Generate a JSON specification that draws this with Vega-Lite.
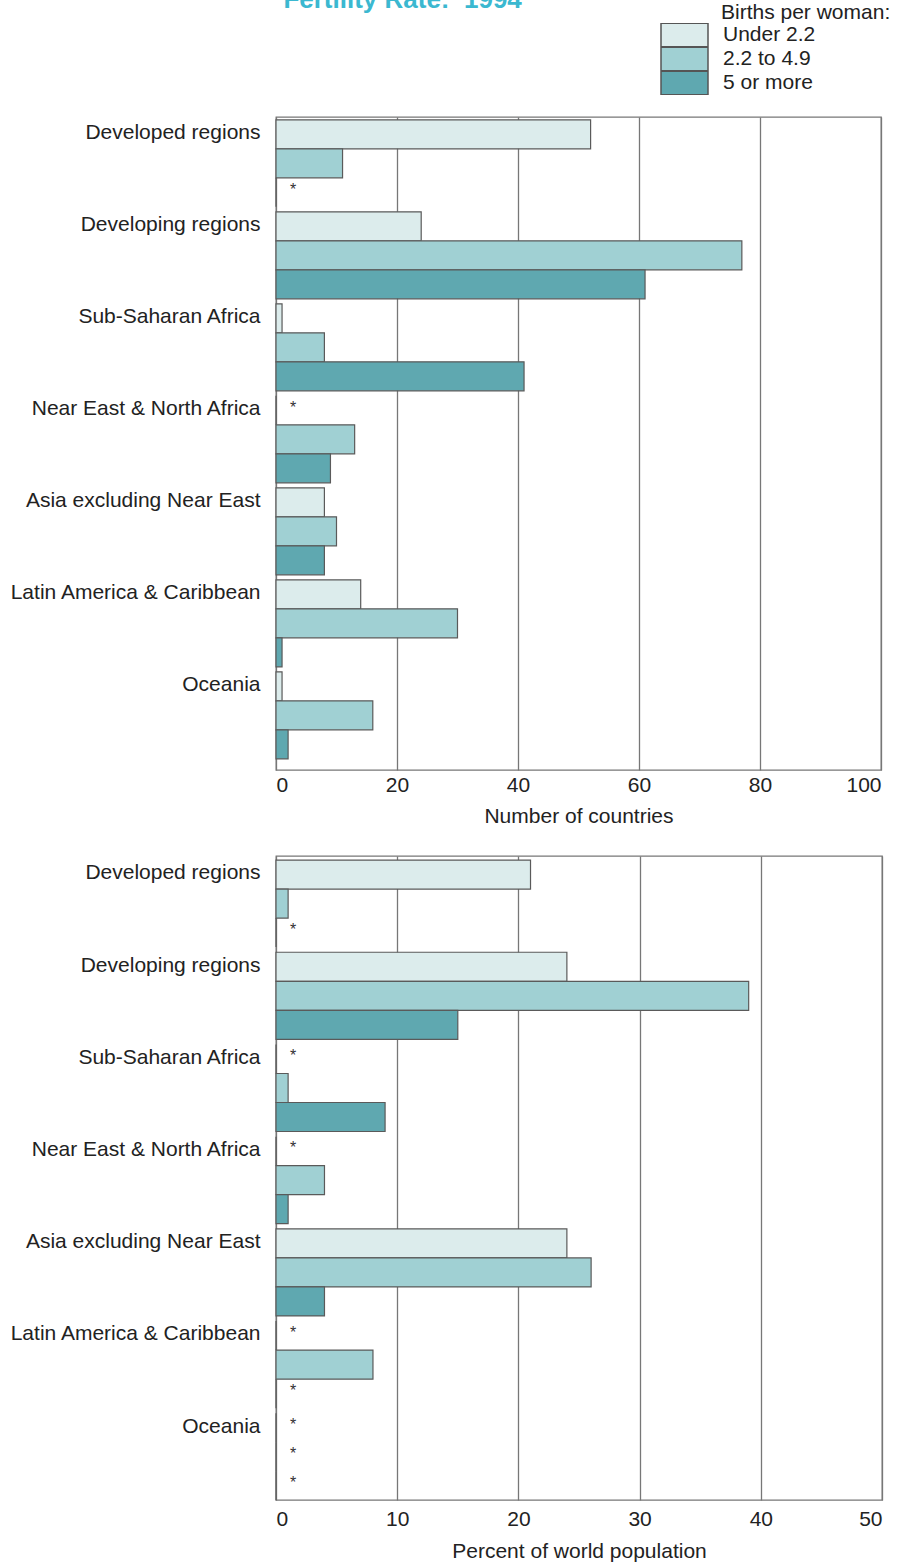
{
  "$schema": "https://vega.github.io/schema/vega-lite/v6.json",
  "padding": {"left": 8, "top": -13, "right": 0, "bottom": 0},
  "title": {"text": "Fertility Rate:\u00a0\u00a01994", "anchor": "start", "frame": "bounds", "dx": 275, "fontSize": 26, "fontWeight": "bold", "color": "#3bb8d0", "font": "Liberation Sans", "offset": -11},
  "datasets": {
    "countries": [
      {"region": "Developed regions", "rate": "Under 2.2", "value": 52},
      {"region": "Developed regions", "rate": "2.2 to 4.9", "value": 11},
      {"region": "Developed regions", "rate": "5 or more", "value": 0},
      {"region": "Developing regions", "rate": "Under 2.2", "value": 24},
      {"region": "Developing regions", "rate": "2.2 to 4.9", "value": 77},
      {"region": "Developing regions", "rate": "5 or more", "value": 61},
      {"region": "Sub-Saharan Africa", "rate": "Under 2.2", "value": 1},
      {"region": "Sub-Saharan Africa", "rate": "2.2 to 4.9", "value": 8},
      {"region": "Sub-Saharan Africa", "rate": "5 or more", "value": 41},
      {"region": "Near East & North Africa", "rate": "Under 2.2", "value": 0},
      {"region": "Near East & North Africa", "rate": "2.2 to 4.9", "value": 13},
      {"region": "Near East & North Africa", "rate": "5 or more", "value": 9},
      {"region": "Asia excluding Near East", "rate": "Under 2.2", "value": 8},
      {"region": "Asia excluding Near East", "rate": "2.2 to 4.9", "value": 10},
      {"region": "Asia excluding Near East", "rate": "5 or more", "value": 8},
      {"region": "Latin America & Caribbean", "rate": "Under 2.2", "value": 14},
      {"region": "Latin America & Caribbean", "rate": "2.2 to 4.9", "value": 30},
      {"region": "Latin America & Caribbean", "rate": "5 or more", "value": 1},
      {"region": "Oceania", "rate": "Under 2.2", "value": 1},
      {"region": "Oceania", "rate": "2.2 to 4.9", "value": 16},
      {"region": "Oceania", "rate": "5 or more", "value": 2}
    ],
    "population": [
      {"region": "Developed regions", "rate": "Under 2.2", "value": 21},
      {"region": "Developed regions", "rate": "2.2 to 4.9", "value": 1},
      {"region": "Developed regions", "rate": "5 or more", "value": 0},
      {"region": "Developing regions", "rate": "Under 2.2", "value": 24},
      {"region": "Developing regions", "rate": "2.2 to 4.9", "value": 39},
      {"region": "Developing regions", "rate": "5 or more", "value": 15},
      {"region": "Sub-Saharan Africa", "rate": "Under 2.2", "value": 0},
      {"region": "Sub-Saharan Africa", "rate": "2.2 to 4.9", "value": 1},
      {"region": "Sub-Saharan Africa", "rate": "5 or more", "value": 9},
      {"region": "Near East & North Africa", "rate": "Under 2.2", "value": 0},
      {"region": "Near East & North Africa", "rate": "2.2 to 4.9", "value": 4},
      {"region": "Near East & North Africa", "rate": "5 or more", "value": 1},
      {"region": "Asia excluding Near East", "rate": "Under 2.2", "value": 24},
      {"region": "Asia excluding Near East", "rate": "2.2 to 4.9", "value": 26},
      {"region": "Asia excluding Near East", "rate": "5 or more", "value": 4},
      {"region": "Latin America & Caribbean", "rate": "Under 2.2", "value": 0},
      {"region": "Latin America & Caribbean", "rate": "2.2 to 4.9", "value": 8},
      {"region": "Latin America & Caribbean", "rate": "5 or more", "value": 0},
      {"region": "Oceania", "rate": "Under 2.2", "value": 0},
      {"region": "Oceania", "rate": "2.2 to 4.9", "value": 0},
      {"region": "Oceania", "rate": "5 or more", "value": 0}
    ]
  },
  "spacing": 28,
  "vconcat": [
    {
      "width": 605,
      "height": 653,
      "data": {"name": "countries"},
      "layer": [
        {
          "mark": {"type": "bar", "stroke": "#5a5a5a", "strokeWidth": 1.2},
          "encoding": {
            "y": {"field": "region", "type": "nominal", "title": null,
              "sort": ["Developed regions", "Developing regions", "Sub-Saharan Africa", "Near East & North Africa", "Asia excluding Near East", "Latin America & Caribbean", "Oceania"],
              "scale": {"paddingInner": 0.054, "paddingOuter": 0.076, "align": 0.2},
              "axis": {"labelOffset": -30, "ticks": false, "domain": false, "labelPadding": 16, "labelLimit": 0}},
            "yOffset": {"field": "rate", "type": "nominal", "sort": ["Under 2.2", "2.2 to 4.9", "5 or more"], "scale": {"paddingInner": 0, "paddingOuter": 0}},
            "x": {"field": "value", "type": "quantitative", "title": "Number of countries",
              "scale": {"domain": [0, 100], "nice": false},
              "axis": {"values": [0, 20, 40, 60, 80, 100], "ticks": false, "domain": false, "labelPadding": 4, "titlePadding": 10}},
            "color": {"field": "rate", "type": "nominal", "sort": ["Under 2.2", "2.2 to 4.9", "5 or more"],
              "scale": {"domain": ["Under 2.2", "2.2 to 4.9", "5 or more"], "range": ["#dcecec", "#a0d0d3", "#5fa8b0"]},
              "legend": {"title": "Births per woman:", "orient": "none", "legendX": 384, "legendY": -115,
                "symbolType": "M-1,-0.5H1V0.5H-1Z", "symbolSize": 2209, "symbolStrokeColor": "#555", "symbolStrokeWidth": 1.5,
                "symbolOpacity": 1, "clipHeight": 24, "rowPadding": 0, "labelOffset": 14, "labelFontSize": 21, "titleFontSize": 21, "titleFontWeight": "normal", "titlePadding": 0, "labelColor": "#222", "titleColor": "#222",
                "encode": {"title": {"update": {"dx": {"value": 61}}}}}}
          }
        },
        {
          "transform": [{"filter": "datum.value == 0"}],
          "mark": {"type": "text", "text": "*", "dx": 17, "dy": -2, "fontSize": 16, "color": "#333"},
          "encoding": {
            "y": {"field": "region", "type": "nominal", "sort": ["Developed regions", "Developing regions", "Sub-Saharan Africa", "Near East & North Africa", "Asia excluding Near East", "Latin America & Caribbean", "Oceania"]},
            "yOffset": {"field": "rate", "type": "nominal", "sort": ["Under 2.2", "2.2 to 4.9", "5 or more"]},
            "x": {"field": "value", "type": "quantitative"}
          }
        }
      ]
    },
    {
      "width": 606,
      "height": 644,
      "data": {"name": "population"},
      "layer": [
        {
          "mark": {"type": "bar", "stroke": "#5a5a5a", "strokeWidth": 1.2},
          "encoding": {
            "y": {"field": "region", "type": "nominal", "title": null,
              "sort": ["Developed regions", "Developing regions", "Sub-Saharan Africa", "Near East & North Africa", "Asia excluding Near East", "Latin America & Caribbean", "Oceania"],
              "scale": {"paddingInner": 0.06, "paddingOuter": 0.022, "align": 1},
              "axis": {"labelOffset": -30, "ticks": false, "domain": false, "labelPadding": 16, "labelLimit": 0}},
            "yOffset": {"field": "rate", "type": "nominal", "sort": ["Under 2.2", "2.2 to 4.9", "5 or more"], "scale": {"paddingInner": 0, "paddingOuter": 0}},
            "x": {"field": "value", "type": "quantitative", "title": "Percent of world population",
              "scale": {"domain": [0, 50], "nice": false},
              "axis": {"values": [0, 10, 20, 30, 40, 50], "ticks": false, "domain": false, "labelPadding": 8, "titlePadding": 11}},
            "color": {"field": "rate", "type": "nominal", "sort": ["Under 2.2", "2.2 to 4.9", "5 or more"],
              "scale": {"domain": ["Under 2.2", "2.2 to 4.9", "5 or more"], "range": ["#dcecec", "#a0d0d3", "#5fa8b0"]}}
          }
        },
        {
          "transform": [{"filter": "datum.value == 0"}],
          "mark": {"type": "text", "text": "*", "dx": 17, "dy": -3, "fontSize": 16, "color": "#333"},
          "encoding": {
            "y": {"field": "region", "type": "nominal", "sort": ["Developed regions", "Developing regions", "Sub-Saharan Africa", "Near East & North Africa", "Asia excluding Near East", "Latin America & Caribbean", "Oceania"]},
            "yOffset": {"field": "rate", "type": "nominal", "sort": ["Under 2.2", "2.2 to 4.9", "5 or more"]},
            "x": {"field": "value", "type": "quantitative"}
          }
        }
      ]
    }
  ],
  "config": {
    "font": "Liberation Sans",
    "view": {"stroke": "#777", "strokeWidth": 1.3},
    "axis": {"labelFontSize": 21, "titleFontSize": 21, "titleFontWeight": "normal", "labelColor": "#222", "titleColor": "#222", "gridColor": "#777", "gridWidth": 1.3, "gridOpacity": 1},
    "axisY": {"grid": false}
  }
}
